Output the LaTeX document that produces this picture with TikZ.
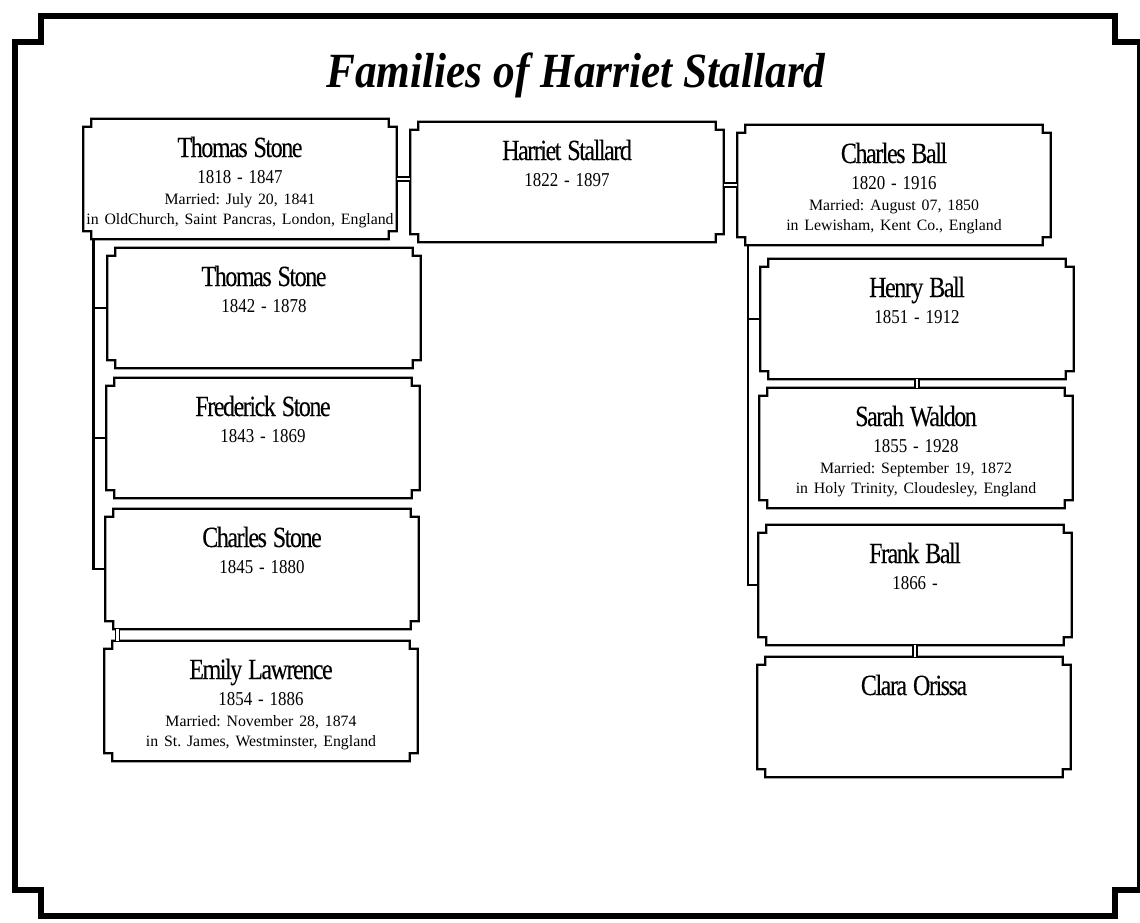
\documentclass[tikz,border=0pt]{standalone}
\usepackage{fontspec}
\setmainfont{Liberation Serif}
\newfontfamily\namefont[FakeStretch=0.82,LetterSpace=-5,FakeBold=0.15]{Liberation Serif}
\newfontfamily\yearfont[FakeStretch=0.86]{Liberation Serif}
\newfontfamily\titlefont[FakeStretch=0.88]{Liberation Serif}
\frenchspacing
\newcommand\who[4]{{\namefont\fontsize{16.7}{16.7}\selectfont #1\par}{\yearfont\fontsize{11.2}{15.3}\selectfont #2\par}{\fontsize{9}{11.6}\selectfont #3\par}{\fontsize{9}{11.3}\selectfont\mbox{#4}\par}}

\begin{document}
\begin{tikzpicture}[x=0.02cm,y=-0.02cm,
        person/.style={inner sep=0pt,text width=6.26cm,align=center,text height=0.76cm,text depth=1.64cm},
        boxline/.style={line width=1.3pt},
        kinline/.style={line width=1.2pt},
        spouse/.style={double,double distance=1.5pt,line width=0.85pt}]
        \useasboundingbox (0,0) rectangle (1140,923);
        \draw[line width=3.4pt] (41,16) -- (1115,16) -- (1115,42) -- (1140,42) -- (1140,890) -- (1115,890) -- (1115,916) -- (41,916) -- (41,890) -- (15,890) -- (15,42) -- (41,42) -- cycle;
        \node[font=\titlefont\bfseries\itshape\fontsize{28}{28}\selectfont,anchor=base] (title) at (576,87) {Families of Harriet Stallard};
        \node[person] (ts) at (240,179) {\who{Thomas Stone}{1818 - 1847}{Married: July 20, 1841}{in OldChurch, Saint Pancras, London, England}};
        \node[person] (hs) at (567,182) {\who{Harriet Stallard}{1822 - 1897}{}{}};
        \node[person] (cb) at (894,185) {\who{Charles Ball}{1820 - 1916}{Married: August 07, 1850}{in Lewisham, Kent Co., England}};
        \node[person] (ts2) at (264,308) {\who{Thomas Stone}{1842 - 1878}{}{}};
        \node[person] (fs) at (263,438) {\who{Frederick Stone}{1843 - 1869}{}{}};
        \node[person] (cs) at (262,569) {\who{Charles Stone}{1845 - 1880}{}{}};
        \node[person] (el) at (261,701) {\who{Emily Lawrence}{1854 - 1886}{Married: November 28, 1874}{in St. James, Westminster, England}};
        \node[person] (hb) at (917,319) {\who{Henry Ball}{1851 - 1912}{}{}};
        \node[person] (sw) at (916,448) {\who{Sarah Waldon}{1855 - 1928}{Married: September 19, 1872}{in Holy Trinity, Cloudesley, England}};
        \node[person] (fb) at (915,585) {\who{Frank Ball}{1866 -}{}{}};
        \node[person] (co) at (914,717) {\who{Clara Orissa}{}{}{}};
        \foreach \n in {ts,hs,cb,ts2,fs,cs,el,hb,sw,fb,co}
          \draw[boxline] ([xshift=0.16cm]\n.north west) -- ([xshift=-0.16cm]\n.north east) -- ++(0,8) -- ++(8,0) -- ([yshift=0.16cm]\n.south east) -- ++(-8,0) -- ++(0,8) -- ([xshift=0.16cm]\n.south west) -- ++(0,-8) -- ++(-8,0) -- ([yshift=-0.16cm]\n.north west) -- ++(8,0) -- cycle;
        \coordinate (lt) at (93.5,0);
        \coordinate (lm) at (117.5,0);
        \coordinate (rt) at (748,0);
        \draw[spouse] (ts.east) -- (ts.east -| hs.west);
        \draw[spouse] (cb.west -| hs.east) -- (cb.west);
        \draw[spouse] (cs.south -| lm) -- (el.north -| lm);
        \draw[spouse] (hb.south) -- (hb.south |- sw.north);
        \draw[spouse] (fb.south) -- (fb.south |- co.north);
        \draw[kinline] (ts.south -| lt) |- (cs.west);
        \draw[kinline] (ts2.west) -- (ts2.west -| lt);
        \draw[kinline] (fs.west) -- (fs.west -| lt);
        \draw[kinline] (cb.south -| rt) |- (fb.west);
        \draw[kinline] (hb.west) -- (hb.west -| rt);
      \end{tikzpicture}
\end{document}
